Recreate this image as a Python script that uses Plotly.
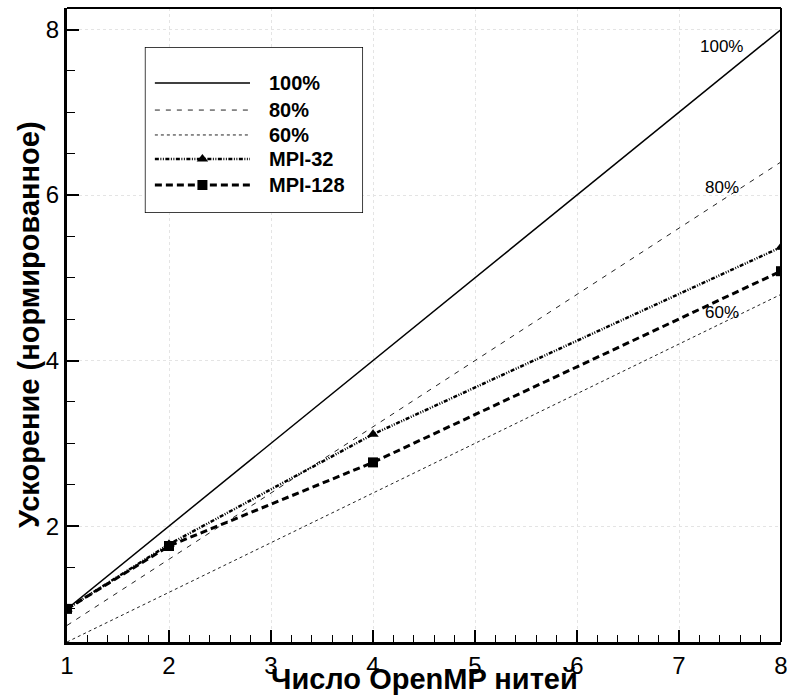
import plotly.graph_objects as go

# OpenMP thread counts and normalized speedups
threads = [1, 2, 4, 8]
mpi32 = [1.0, 1.78, 3.11, 5.37]
mpi128 = [1.0, 1.76, 2.77, 5.08]

# ideal-efficiency reference lines (speedup = efficiency * threads)
ref_x = [1, 8]
eff_levels = [1.0, 0.8, 0.6]
eff_labels = ["100%", "80%", "60%"]
eff_label_x = [7.42, 7.42, 7.42]
eff_label_y = [7.79, 6.09, 4.58]

x_title = "Число OpenMP нитей"
y_title = "Ускорение (нормированное)"

FONT = "Liberation Sans, Arial, sans-serif"

ref_styles = [
    dict(color="black", width=1.5, dash="solid"),
    dict(color="#222", width=1, dash="5px,6px"),
    dict(color="#222", width=1, dash="3px,3px"),
]
mpi32_line = dict(color="black", width=2.5, dash="4px,1.5px,1px,1.5px,1px,1.5px")
mpi128_line = dict(color="black", width=3, dash="7px,4px")

fig = go.Figure()

for eff, style in zip(eff_levels, ref_styles):
    fig.add_trace(go.Scatter(
        x=ref_x, y=[eff * v for v in ref_x], mode="lines",
        line=style, showlegend=False, hoverinfo="skip"))

fig.add_trace(go.Scatter(
    x=threads, y=mpi32, mode="lines+markers", line=mpi32_line,
    marker=dict(symbol="triangle-up", size=10, color="black"),
    showlegend=False))
fig.add_trace(go.Scatter(
    x=threads, y=mpi128, mode="lines+markers", line=mpi128_line,
    marker=dict(symbol="square", size=10, color="black"),
    showlegend=False))

for lab, lx, ly in zip(eff_labels, eff_label_x, eff_label_y):
    fig.add_annotation(x=lx, y=ly, text=lab, showarrow=False,
                       font=dict(family=FONT, size=17, color="black"))

# --- key box drawn on its own unit axes ---
key_names = eff_labels + ["MPI-32", "MPI-128"]
key_lines = ref_styles + [mpi32_line, mpi128_line]
key_markers = [None, None, None, "triangle-up", "square"]
key_rows = [0.783, 0.620, 0.470, 0.325, 0.169]

fig.add_shape(type="rect", xref="x2", yref="y2", x0=0, x1=1, y0=0, y1=1,
              line=dict(color="black", width=1.5), fillcolor="white",
              layer="below")
for name, ln, mk, ry in zip(key_names, key_lines, key_markers, key_rows):
    fig.add_trace(go.Scatter(
        x=[0.046, 0.482], y=[ry, ry], mode="lines", line=ln,
        xaxis="x2", yaxis="y2", showlegend=False, hoverinfo="skip"))
    if mk:
        fig.add_trace(go.Scatter(
            x=[0.264], y=[ry], mode="markers",
            marker=dict(symbol=mk, size=10, color="black"),
            xaxis="x2", yaxis="y2", showlegend=False, hoverinfo="skip"))
    fig.add_annotation(x=0.56, y=ry, xref="x2", yref="y2", text=f"<b>{name}</b>",
                       xanchor="left", yanchor="middle", showarrow=False,
                       font=dict(family=FONT, size=20, color="black"))

# axis titles
fig.add_annotation(x=0.5, y=0, xref="paper", yref="paper", yshift=-37,
                   text=f"<b>{x_title}</b>", showarrow=False,
                   xanchor="center", yanchor="middle",
                   font=dict(family=FONT, size=29, color="black"))
fig.add_annotation(x=0, y=0.5, xref="paper", yref="paper", xshift=-38,
                   text=f"<b>{y_title}</b>", showarrow=False, textangle=-90,
                   xanchor="center", yanchor="middle",
                   font=dict(family=FONT, size=29, color="black"))

# thin top and right frame
fig.add_shape(type="line", xref="paper", yref="paper", x0=0, x1=1, y0=1, y1=1,
              line=dict(color="black", width=2))
fig.add_shape(type="line", xref="paper", yref="paper", x0=1, x1=1, y0=0, y1=1,
              line=dict(color="black", width=2))

axis_common = dict(
    showline=True, linecolor="black", linewidth=3, mirror=False,
    ticks="inside", ticklen=12, tickwidth=2, tickcolor="black",
    showgrid=True, gridcolor="#e4e4e4", griddash="dot", gridwidth=1,
    zeroline=False, automargin=False, ticklabeloverflow="allow",
    tickfont=dict(family=FONT, size=24, color="black"),
)

fig.update_layout(
    width=787, height=697,
    margin=dict(l=67, r=6, t=8, b=55),
    paper_bgcolor="white", plot_bgcolor="white",
    showlegend=False,
    xaxis=dict(range=[1, 8], dtick=1, tick0=0,
               minor=dict(dtick=0.2, ticks="inside", ticklen=7, tickwidth=1,
                          tickcolor="black", showgrid=False),
               **axis_common),
    yaxis=dict(range=[0.6, 8.26], dtick=2, tick0=0,
               minor=dict(dtick=0.5, ticks="inside", ticklen=8, tickwidth=1,
                          tickcolor="black", showgrid=False),
               **axis_common),
    xaxis2=dict(domain=[0.109, 0.4146], range=[0, 1], visible=False,
                anchor="y2", fixedrange=True),
    yaxis2=dict(domain=[0.6767, 0.9385], range=[0, 1], visible=False,
                anchor="x2", fixedrange=True),
)

fig.write_html("out.html")
